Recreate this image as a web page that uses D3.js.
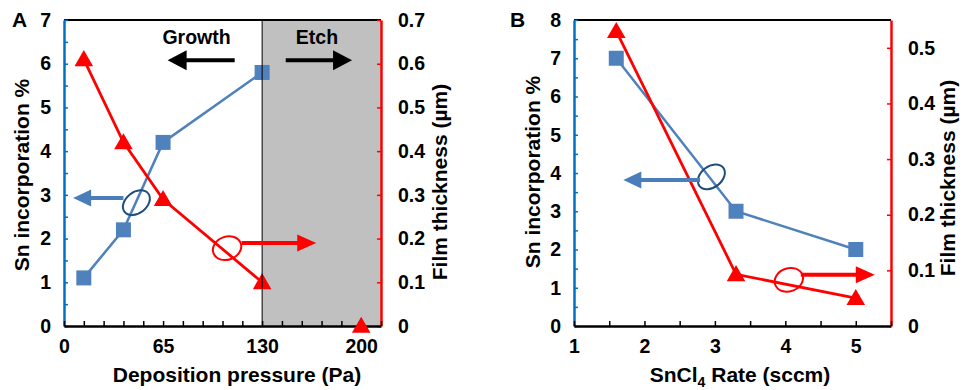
<!DOCTYPE html>
<html>
<head>
<meta charset="utf-8">
<script src="https://cdn.jsdelivr.net/npm/d3@7"></script>
<style>
  body { margin: 0; background: #fff; }
  svg { font-family: "Liberation Sans", Arial, sans-serif; font-weight: bold; }
</style>
</head>
<body>
<svg id="chart" width="966" height="390"></svg>
<script>
// ---- panel A data: deposition pressure series ----
let pressure = [13, 39, 65, 130];           // Pa, Sn incorporation points
let snA = [1.1, 2.2, 4.2, 5.8];             // Sn incorporation %
let pressureT = [13, 39, 65, 130, 195];     // Pa, thickness points
let thickA = [0.61, 0.42, 0.29, 0.1, 0];    // film thickness um
let xTicksA = [0, 65, 130, 195];
let xTickLabelsA = ["0", "65", "130", "200"];

// ---- panel B data: SnCl4 rate series ----
let rate = [1.6, 3.3, 5];                   // sccm
let snB = [7.0, 3.0, 2.0];
let thickB = [0.53, 0.093, 0.05];
let xTicksB = [1, 2, 3, 4, 5];

let blue = "#4F81BD", red = "#FF0000", axisBlue = "#0070C0";

let svg = d3.select("#chart");

// arrow: shaft from (x1,y) to tip (x2,y)
function arrow(g, x1, x2, y, color, head, half) {
    let dir = x2 > x1 ? 1 : -1;
    g.append("line")
        .attr("x1", x1).attr("x2", x2 - dir * head * 0.9)
        .attr("y1", y).attr("y2", y)
        .attr("stroke", color).attr("stroke-width", 4);
    g.append("path")
        .attr("d", "M" + x2 + "," + y + "L" + (x2 - dir * head) + "," + (y - half) +
              "L" + (x2 - dir * head) + "," + (y + half) + "Z")
        .attr("fill", color);
}

function drawPanel(cfg) {
    let g = svg.append("g");
    let x = cfg.x, yL = cfg.yL, yR = cfg.yR;
    let top = yL.range()[1], bottom = yL.range()[0];
    let left = x.range()[0], right = x.range()[1];

    if (cfg.shade) {
        g.append("rect")
            .attr("x", x(cfg.shade)).attr("y", top)
            .attr("width", right - x(cfg.shade)).attr("height", bottom - top)
            .attr("fill", "#C0C0C0");
    }

    // top border
    g.append("line").attr("x1", left).attr("x2", right)
        .attr("y1", top).attr("y2", top)
        .attr("stroke", "#000").attr("stroke-width", 2);

    // left axis: minor ticks + labels
    let lMinor = g.append("g").attr("transform", "translate(" + left + ",0)")
        .call(d3.axisLeft(yL).tickValues(d3.range(0, yL.domain()[1] + 0.01, 0.5))
            .tickSizeInner(-4).tickSizeOuter(0).tickFormat(""));
    lMinor.selectAll("line").attr("stroke", axisBlue).attr("stroke-width", 1.5);
    lMinor.select(".domain").attr("stroke", axisBlue).attr("stroke-width", 2.5);
    let lLab = g.append("g").attr("transform", "translate(" + left + ",0)")
        .call(d3.axisLeft(yL).tickValues(d3.range(0, yL.domain()[1] + 0.01, 1))
            .tickSize(0).tickPadding(13).tickFormat(d3.format("d")));
    lLab.select(".domain").remove();

    // right axis
    let rAx = g.append("g").attr("transform", "translate(" + right + ",0)")
        .call(d3.axisRight(yR).tickValues(cfg.rTicks)
            .tickSizeInner(-4).tickSizeOuter(0).tickPadding(17)
            .tickFormat(d => d === 0 ? "0" : d3.format(".1f")(d)));
    rAx.selectAll("line").attr("stroke", red).attr("stroke-width", 1.5);
    rAx.select(".domain").attr("stroke", red).attr("stroke-width", 2.5);

    // bottom axis
    let bMinor = g.append("g").attr("transform", "translate(0," + bottom + ")")
        .call(d3.axisBottom(x).tickValues(cfg.minorX)
            .tickSizeInner(-5).tickSizeOuter(0).tickFormat(""));
    bMinor.selectAll("line").attr("stroke", "#000").attr("stroke-width", 1.5);
    bMinor.select(".domain").attr("stroke", "#000").attr("stroke-width", 2.5);
    let bLab = g.append("g").attr("transform", "translate(0," + bottom + ")")
        .call(d3.axisBottom(x).tickValues(cfg.xTicks).tickSize(0).tickPadding(13)
            .tickFormat((d, i) => cfg.xLabels[i]));
    bLab.select(".domain").remove();

    g.selectAll(".tick text").attr("fill", "#000").attr("font-size", 19.5)
        .attr("font-family", "Liberation Sans, Arial, sans-serif").attr("font-weight", "bold");

    // blue series
    let sq = cfg.sqX.map((d, i) => ({x: d, y: cfg.sqY[i]}));
    g.append("path").datum(sq)
        .attr("d", d3.line().x(d => x(d.x)).y(d => yL(d.y)))
        .attr("fill", "none").attr("stroke", blue).attr("stroke-width", 2.5);
    g.selectAll(".sq").data(sq).enter().append("path")
        .attr("transform", d => "translate(" + x(d.x) + "," + yL(d.y) + ")")
        .attr("d", d3.symbol(d3.symbolSquare, 225))
        .attr("fill", blue);

    // red series
    let tr = cfg.trX.map((d, i) => ({x: d, y: cfg.trY[i]}));
    g.append("path").datum(tr.filter(d => !cfg.lineMax || d.x <= cfg.lineMax))
        .attr("d", d3.line().x(d => x(d.x)).y(d => yR(d.y)))
        .attr("fill", "none").attr("stroke", red).attr("stroke-width", 2.8);
    g.selectAll(".tr").data(tr).enter().append("path")
        .attr("transform", d => "translate(" + x(d.x) + "," + (yR(d.y) + 1.5) + ")")
        .attr("d", d3.symbol(d3.symbolTriangle, 150))
        .attr("fill", red);

    if (cfg.shade) {
        g.append("line").attr("x1", x(cfg.shade)).attr("x2", x(cfg.shade))
            .attr("y1", top).attr("y2", bottom)
            .attr("stroke", "#000").attr("stroke-width", 1);
    }

    // ellipse + arrow pointing to the blue (left) axis
    let be = cfg.blueNote;
    g.append("ellipse")
        .attr("transform", "translate(" + x(be.cx) + "," + yL(be.cy) + ") rotate(-38)")
        .attr("rx", 15).attr("ry", 10.5)
        .attr("fill", "none").attr("stroke", "#1F4E79").attr("stroke-width", 2);
    arrow(g, x(be.from), x(be.to), yL(be.y), "#4A7EBB", 18, 8.5);

    // ellipse + arrow pointing to the red (right) axis
    let re = cfg.redNote;
    g.append("ellipse")
        .attr("transform", "translate(" + x(re.cx) + "," + yR(re.cy) + ") rotate(-20)")
        .attr("rx", 14.5).attr("ry", 11.5)
        .attr("fill", "none").attr("stroke", red).attr("stroke-width", 2);
    arrow(g, x(re.from), x(re.to), yR(re.y), red, 19, 8.5);

    // axis titles
    g.append("text").attr("x", cfg.xTitleX).attr("y", 382)
        .attr("text-anchor", "middle").attr("font-size", 21)
        .call(t => cfg.xTitle(t));
    g.append("text")
        .attr("transform", "translate(" + cfg.lTitleX + "," + cfg.lTitleY + ") rotate(-90)")
        .attr("text-anchor", "middle").attr("font-size", 21)
        .text("Sn incorporation %");
    g.append("text")
        .attr("transform", "translate(" + cfg.rTitleX + "," + cfg.rTitleY + ") rotate(-90)")
        .attr("text-anchor", "middle").attr("font-size", 21)
        .text("Film thickness (\u00b5m)");
    g.append("text").attr("x", cfg.letterX).attr("y", 27)
        .attr("font-size", 21).text(cfg.letter);
    return g;
}

// ---- panel A ----
let xA = d3.scaleLinear().domain([0, 208]).range([64, 381]);
let gA = drawPanel({
    x: xA,
    yL: d3.scaleLinear().domain([0, 7]).range([326, 20]),
    yR: d3.scaleLinear().domain([0, 0.7]).range([326, 20]),
    rTicks: d3.range(0, 0.71, 0.1),
    minorX: d3.range(0, 209, 13),
    xTicks: xTicksA, xLabels: xTickLabelsA,
    sqX: pressure, sqY: snA, trX: pressureT, trY: thickA,
    lineMax: 130, shade: 130,
    blueNote: {cx: 47.5, cy: 2.82, from: 39, to: 6, y: 2.93},
    redNote: {cx: 107, cy: 0.178, from: 116.5, to: 165.5, y: 0.19},
    xTitleX: 237, xTitle: t => t.text("Deposition pressure (Pa)"),
    lTitleX: 29, lTitleY: 175, rTitleX: 447, rTitleY: 182,
    letterX: 12, letter: "A"
});
let yA = d3.scaleLinear().domain([0, 7]).range([326, 20]);
gA.append("text").attr("x", xA(87)).attr("y", yA(6.6) + 7)
    .attr("text-anchor", "middle").attr("font-size", 19.5).text("Growth");
gA.append("text").attr("x", xA(166)).attr("y", yA(6.6) + 7)
    .attr("text-anchor", "middle").attr("font-size", 19.5).text("Etch");
arrow(gA, xA(112), xA(68), yA(6.08), "#000", 19, 10);
arrow(gA, xA(145.5), xA(189), yA(6.08), "#000", 19, 10);

// ---- panel B ----
drawPanel({
    x: d3.scaleLinear().domain([1, 5.5]).range([574, 891]),
    yL: d3.scaleLinear().domain([0, 8]).range([326, 20]),
    yR: d3.scaleLinear().domain([0, 0.55]).range([326, 20]),
    rTicks: d3.range(0, 0.51, 0.1),
    minorX: d3.range(1, 5.51, 0.5),
    xTicks: xTicksB, xLabels: xTicksB.map(String),
    sqX: rate, sqY: snB, trX: rate, trY: thickB,
    lineMax: null, shade: null,
    blueNote: {cx: 2.95, cy: 3.9, from: 2.79, to: 1.7, y: 3.82},
    redNote: {cx: 4.05, cy: 0.083, from: 4.22, to: 5.27, y: 0.092},
    xTitleX: 740,
    xTitle: t => {
        t.append("tspan").text("SnCl");
        t.append("tspan").attr("font-size", 14).attr("dy", 5).text("4");
        t.append("tspan").attr("dy", -5).text(" Rate (sccm)");
    },
    lTitleX: 540, lTitleY: 172, rTitleX: 955, rTitleY: 178,
    letterX: 510, letter: "B"
});
</script>
</body>
</html>
